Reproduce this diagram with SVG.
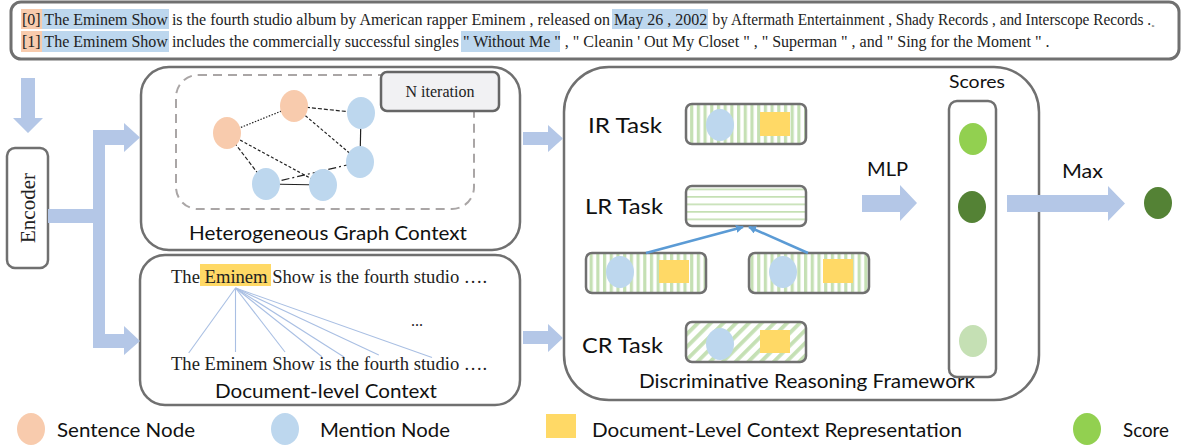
<svg xmlns="http://www.w3.org/2000/svg" width="1188" height="448" viewBox="0 0 1188 448">
<style>
.box{fill:#fff;stroke:#707070;stroke-width:2.5}
.serif{font-family:"Liberation Serif","Times New Roman",serif;fill:#222}
.sans{font-family:Lato,"Open Sans",sans-serif;fill:#111}
.arrow{fill:#b4c7e7}
.snode{fill:#f8cbad}
.mnode{fill:#bdd7ee}
.doc{fill:#ffd966}
.edge{stroke:#222;stroke-width:1.2;fill:none}
.fan{stroke:#a9bfe3;stroke-width:1.1;fill:none}
.task{stroke:#707070;stroke-width:2.5}
.link{stroke:#5b9bd5;stroke-width:2.5}
</style>
<defs>
<pattern id="vs" patternUnits="userSpaceOnUse" width="6.7" height="10"><rect x="0" y="0" width="3.2" height="10" fill="#c5e0b4"/></pattern>
<pattern id="hs" patternUnits="userSpaceOnUse" width="10" height="7.5" y="1"><rect x="0" y="0" width="10" height="1.7" fill="#c5e0b4"/></pattern>
<pattern id="ds" patternUnits="userSpaceOnUse" width="9" height="10" patternTransform="rotate(45)"><rect x="0" y="0" width="3.8" height="10" fill="#c5e0b4"/></pattern>
<marker id="ah" markerWidth="8" markerHeight="8" refX="7" refY="4" orient="auto" markerUnits="userSpaceOnUse" viewBox="0 0 8 8"><path d="M0,0 L8,4 L0,8 Z" fill="#5b9bd5"/></marker>
</defs>

<g id="input-text">
<rect x="11" y="2" width="1168" height="57" rx="10" fill="#fff" stroke="#707070" stroke-width="3"/>
<rect x="21" y="9" width="21" height="20" fill="#f8cbad"/>
<rect x="42" y="9" width="127" height="20" fill="#bdd7ee"/>
<rect x="612" y="9" width="96" height="20" fill="#bdd7ee"/>
<rect x="21" y="31" width="21" height="21" fill="#f8cbad"/>
<rect x="42" y="31" width="127" height="21" fill="#bdd7ee"/>
<rect x="461" y="31" width="99" height="21" fill="#bdd7ee"/>
<text class="serif" x="22" y="25" font-size="16">[0] The Eminem Show is the fourth studio album by American rapper Eminem , released on May 26 , 2002</text>
<text class="serif" x="712.6" y="25" font-size="16" textLength="448" lengthAdjust="spacingAndGlyphs">by Aftermath Entertainment , Shady Records , and Interscope Records .<tspan font-size="10" dy="1">。</tspan></text>
<text class="serif" x="22" y="47" font-size="16">[1] The Eminem Show includes the commercially successful singles " Without Me " , " Cleanin ' Out My Closet " , " Superman " , and " Sing for the Moment " .</text>
</g>

<g id="encoder">
<rect x="7" y="148" width="41" height="120" rx="8" class="box"/>
<text class="serif" font-size="21" text-anchor="middle" transform="translate(35,208) rotate(-90)">Encoder</text>
</g>

<g id="graph-context">
<rect x="141" y="67" width="379" height="183" rx="28" class="box"/>
<rect x="176" y="75" width="298" height="134" rx="22" fill="none" stroke="#aaa6a6" stroke-width="2" stroke-dasharray="9,6"/>
<g id="graph-edges">
<line class="edge" x1="227" y1="133" x2="294" y2="106" stroke-dasharray="1.5,1.5"/>
<line class="edge" x1="294" y1="106" x2="361" y2="113" stroke-dasharray="4,2"/>
<line class="edge" x1="294" y1="106" x2="360" y2="162" stroke-dasharray="3,2"/>
<line class="edge" x1="361" y1="113" x2="360" y2="162"/>
<line class="edge" x1="227" y1="133" x2="266" y2="184" stroke-dasharray="4,2"/>
<line class="edge" x1="227" y1="133" x2="323" y2="185" stroke-dasharray="3,2"/>
<line class="edge" x1="266" y1="184" x2="360" y2="162" stroke-dasharray="8,3,2,3"/>
<line class="edge" x1="266" y1="184" x2="323" y2="185"/>
</g>
<ellipse class="snode" cx="227" cy="133" rx="14" ry="16"/>
<ellipse class="snode" cx="294" cy="106" rx="14" ry="16"/>
<ellipse class="mnode" cx="361" cy="113" rx="14" ry="16"/>
<ellipse class="mnode" cx="360" cy="162" rx="14" ry="16"/>
<ellipse class="mnode" cx="266" cy="184" rx="14" ry="16"/>
<ellipse class="mnode" cx="323" cy="185" rx="14" ry="16"/>
<g id="n-iteration">
<rect x="381" y="72" width="118" height="39" rx="6" fill="#f1f1f3" stroke="#666" stroke-width="2.5"/>
<text class="serif" x="440" y="97" font-size="16" text-anchor="middle">N iteration</text>
</g>
<text class="sans" x="189" y="240" font-size="19" textLength="278" lengthAdjust="spacingAndGlyphs">Heterogeneous Graph Context</text>
</g>

<g id="document-context">
<rect x="140" y="255" width="380" height="150" rx="25" class="box"/>
<rect x="200" y="264" width="71" height="22" fill="#ffd966"/>
<g id="fan">
<line class="fan" x1="235.5" y1="288" x2="188.7" y2="353"/>
<line class="fan" x1="235.5" y1="288" x2="235.5" y2="352"/>
<line class="fan" x1="235.5" y1="288" x2="285" y2="352"/>
<line class="fan" x1="235.5" y1="288" x2="322" y2="356.7"/>
<line class="fan" x1="235.5" y1="288" x2="344" y2="357"/>
<line class="fan" x1="235.5" y1="288" x2="378.8" y2="355"/>
<line class="fan" x1="235.5" y1="288" x2="432" y2="357.4"/>
</g>
<text class="serif" x="171" y="283" font-size="18.6">The Eminem Show is the fourth studio ….</text>
<text class="serif" x="411" y="326" font-size="16">...</text>
<text class="serif" x="171" y="370" font-size="18.6">The Eminem Show is the fourth studio ….</text>
<text class="sans" x="215" y="398" font-size="19" textLength="222" lengthAdjust="spacingAndGlyphs">Document-level Context</text>
</g>

<g id="reasoning-framework">
<rect x="564" y="67" width="475" height="333" rx="45" class="box"/>
<text class="sans" x="639" y="388" font-size="19" textLength="336" lengthAdjust="spacingAndGlyphs">Discriminative Reasoning Framework</text>
</g>

<g id="ir-task">
<text class="sans" x="588" y="133" font-size="22" textLength="74" lengthAdjust="spacingAndGlyphs">IR Task</text>
<rect x="686" y="104" width="120" height="40" rx="6" fill="#fff"/>
<rect x="686" y="104" width="120" height="40" rx="6" fill="url(#vs)" class="task"/>
<ellipse class="mnode" cx="720" cy="125" rx="14" ry="16"/>
<rect class="doc" x="760" y="112" width="30" height="24"/>
</g>

<g id="lr-task">
<text class="sans" x="585" y="214" font-size="22" textLength="78" lengthAdjust="spacingAndGlyphs">LR Task</text>
<rect x="686" y="186" width="120" height="40" rx="6" fill="#fff"/>
<rect x="686" y="186" width="120" height="40" rx="6" fill="url(#hs)" class="task"/>
</g>

<g id="lr-left">
<rect x="586" y="253" width="120" height="40" rx="6" fill="#fff"/>
<rect x="586" y="253" width="120" height="40" rx="6" fill="url(#vs)" class="task"/>
<ellipse class="mnode" cx="620" cy="272" rx="14" ry="16"/>
<rect class="doc" x="659" y="260" width="30" height="23"/>
</g>

<g id="lr-right">
<rect x="749" y="253" width="120" height="40" rx="6" fill="#fff"/>
<rect x="749" y="253" width="120" height="40" rx="6" fill="url(#vs)" class="task"/>
<ellipse class="mnode" cx="783" cy="272" rx="14" ry="16"/>
<rect class="doc" x="823" y="259" width="30" height="24"/>
</g>

<g id="cr-task">
<text class="sans" x="582" y="353" font-size="22" textLength="81" lengthAdjust="spacingAndGlyphs">CR Task</text>
<rect x="686" y="322" width="120" height="40" rx="6" fill="#fff"/>
<rect x="686" y="322" width="120" height="40" rx="6" fill="url(#ds)" class="task"/>
<ellipse class="mnode" cx="720" cy="344" rx="14" ry="16"/>
<rect class="doc" x="760" y="330" width="30" height="23"/>
</g>

<g id="mlp">
<text class="sans" x="867" y="176" font-size="20" textLength="41" lengthAdjust="spacingAndGlyphs">MLP</text>
</g>

<g id="scores">
<text class="sans" x="977" y="88" font-size="17" text-anchor="middle" textLength="56" lengthAdjust="spacingAndGlyphs">Scores</text>
<rect x="949" y="101" width="47" height="276" rx="8" fill="#fff" stroke="#707070" stroke-width="2.5"/>
<ellipse cx="973" cy="139" rx="14" ry="16" fill="#92d050"/>
<ellipse cx="972" cy="207" rx="14" ry="16" fill="#548235"/>
<ellipse cx="973" cy="341" rx="14" ry="16" fill="#c5e0b4"/>
</g>

<g id="max">
<text class="sans" x="1062" y="178" font-size="20" textLength="41" lengthAdjust="spacingAndGlyphs">Max</text>
<ellipse cx="1158" cy="203" rx="14" ry="16" fill="#548235"/>
</g>

<g id="connectors">
<polygon class="arrow" points="21,78 35,78 35,118 43,118 28,133 13,118 21,118"/>
<polygon class="arrow" points="48,209 93,209 93,130 124,130 124,123 140,137.5 124,152 124,145 105,145 105,334 124,334 124,326 140,341 124,355 124,348 93,348 93,223 48,223"/>
<polygon class="arrow" points="523,132 548,132 548,125 563,138.5 548,152 548,145 523,145"/>
<polygon class="arrow" points="523,331 548,331 548,324 563,338 548,352 548,344 523,344"/>
<line class="link" x1="646" y1="253" x2="743" y2="227" marker-end="url(#ah)"/>
<line class="link" x1="808" y1="253" x2="749" y2="227" marker-end="url(#ah)"/>
<polygon class="arrow" points="862,195 900,195 900,185 917,203 900,221 900,212 862,212"/>
<polygon class="arrow" points="1007,195 1108,195 1108,186 1125,203.5 1108,221 1108,212 1007,212"/>
</g>

<g id="legend">
<ellipse class="snode" cx="31" cy="429" rx="14" ry="16"/>
<text class="sans" x="57" y="437" font-size="19" textLength="138" lengthAdjust="spacingAndGlyphs">Sentence Node</text>
<ellipse class="mnode" cx="285" cy="429" rx="14" ry="16"/>
<text class="sans" x="320" y="437" font-size="19" textLength="130" lengthAdjust="spacingAndGlyphs">Mention Node</text>
<rect class="doc" x="546" y="414" width="30" height="24"/>
<text class="sans" x="592" y="437" font-size="19" textLength="370" lengthAdjust="spacingAndGlyphs">Document-Level Context Representation</text>
<ellipse cx="1087" cy="429" rx="14" ry="16" fill="#92d050"/>
<text class="sans" x="1123" y="437" font-size="19" textLength="46" lengthAdjust="spacingAndGlyphs">Score</text>
</g>
</svg>
